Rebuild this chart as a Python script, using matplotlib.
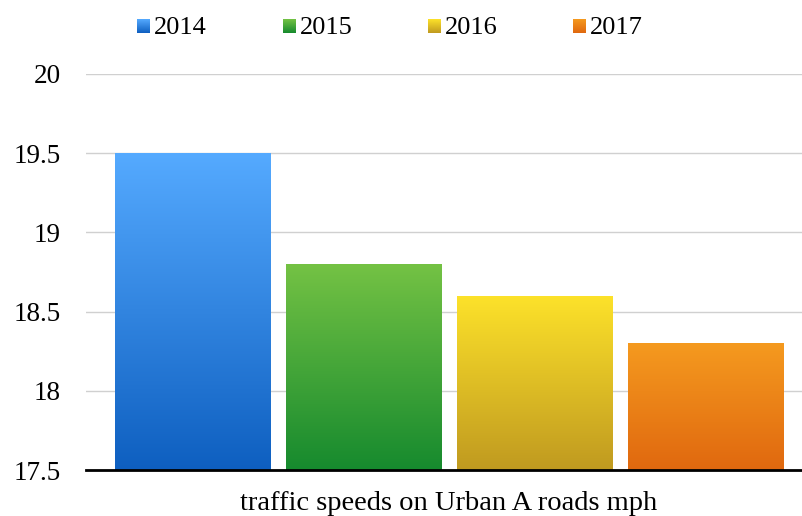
import numpy as np
import matplotlib
matplotlib.use("Agg")
import matplotlib.pyplot as plt
from matplotlib.colors import LinearSegmentedColormap

# data
years = ["2014", "2015", "2016", "2017"]
speeds = [19.5, 18.8, 18.6, 18.3]
category = "traffic speeds on Urban A roads mph"
yticks = [17.5, 18, 18.5, 19, 19.5, 20]

# gradient colours (top, bottom) for each year
top_colors = ["#55aaff", "#74c244", "#fde22a", "#f59a1f"]
bottom_colors = ["#0e5fc0", "#168a2e", "#c09a20", "#e0680f"]

plt.rcParams["font.family"] = ["Liberation Serif", "DejaVu Serif"]

fig = plt.figure(figsize=(8.02, 5.16), dpi=100)
W, H = 802, 516
ax = fig.add_axes([86 / W, 46 / H, 727 / W, 396 / H])

ymin, ymax = 17.5, 20
bar_w = 0.2145
gap = 0.0206
n = len(years)
offsets = [(i - (n - 1) / 2) * (bar_w + gap) for i in range(n)]

grad = np.linspace(0, 1, 256).reshape(-1, 1)
for i, (yr, val) in enumerate(zip(years, speeds)):
    bar = ax.bar(offsets[i], val - ymin, bottom=ymin, width=bar_w,
                 color="none", edgecolor="none", zorder=2)[0]
    cmap = LinearSegmentedColormap.from_list(yr, [bottom_colors[i], top_colors[i]])
    im = ax.imshow(grad, cmap=cmap, aspect="auto", origin="lower",
                   extent=(bar.get_x(), bar.get_x() + bar_w, ymin, val), zorder=2)
    im.set_clip_path(bar)

ax.set_xlim(-0.5, 0.5)
ax.set_ylim(ymin, ymax)
ax.set_yticks(yticks)
ax.set_yticklabels([f"{t:g}" for t in yticks], fontsize=19.5)
ax.set_xticks([])
ax.tick_params(axis="y", length=0, pad=18)
ax.yaxis.grid(True, color="#d0d0d0", linewidth=1)
ax.set_axisbelow(True)
for s in ["left", "right", "top"]:
    ax.spines[s].set_visible(False)
ax.spines["bottom"].set_linewidth(2)
ax.spines["bottom"].set_color("black")
ax.spines["bottom"].set_zorder(3)

fig.text(449 / W, 1 - 503 / H, category, ha="center", va="center", fontsize=20.5)

# legend with gradient squares
leg_x = [137, 283, 428, 573]
for i, yr in enumerate(years):
    lax = fig.add_axes([leg_x[i] / W, 1 - 33 / H, 13 / W, 14 / H])
    cmap = LinearSegmentedColormap.from_list(yr + "l", [bottom_colors[i], top_colors[i]])
    lax.imshow(grad, cmap=cmap, aspect="auto", origin="lower")
    lax.axis("off")
    fig.text((leg_x[i] + 17) / W, 1 - 27.5 / H, yr, ha="left", va="center", fontsize=19)

fig.savefig("out.png", dpi=100)
